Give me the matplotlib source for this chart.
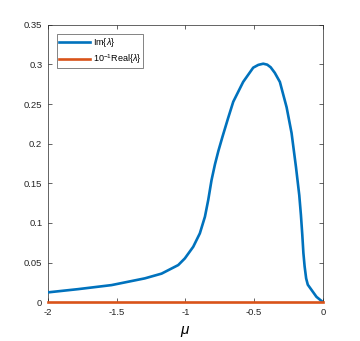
import matplotlib
matplotlib.use("Agg")
import matplotlib.pyplot as plt
import numpy as np

# valores
mu = [-2.0, -1.78, -1.537, -1.295, -1.173, -1.052, -1.004, -0.943, -0.895, -0.858,
      -0.834, -0.81, -0.785, -0.76, -0.73, -0.69, -0.652, -0.58, -0.507, -0.47,
      -0.434, -0.405, -0.38, -0.35, -0.313, -0.264, -0.228, -0.196, -0.172, -0.16,
      -0.15, -0.142, -0.133, -0.122, -0.11, -0.082, -0.047, 0.0]
im_lam = [0.0123, 0.0164, 0.0215, 0.030, 0.036, 0.0468, 0.0552, 0.0699, 0.0868, 0.1078,
          0.1289, 0.154, 0.174, 0.191, 0.209, 0.232, 0.253, 0.278, 0.296, 0.2995,
          0.301, 0.2998, 0.2965, 0.2895, 0.278, 0.246, 0.2135, 0.1706, 0.135, 0.11,
          0.085, 0.062, 0.045, 0.030, 0.022, 0.0152, 0.0067, 0.0]
real_lam = [0.0] * len(mu)

plt.rcParams['font.family'] = ['Liberation Sans', 'DejaVu Sans']
plt.rcParams['mathtext.fontset'] = 'custom'
plt.rcParams['mathtext.it'] = 'Liberation Sans:italic'
plt.rcParams['mathtext.rm'] = 'Liberation Sans'

fig = plt.figure(figsize=(3.6, 3.41), dpi=100)
ax = fig.add_axes([0.133, 0.114, 0.764, 0.813])

ax.plot(mu, im_lam, color='#0072BD', lw=1.9, label=r'Im{$\lambda$}', zorder=3)
ax.plot(mu, real_lam, color='#D95319', lw=1.9, label=r'10$^{-1}$Real{$\lambda$}',
        clip_on=False, zorder=4)

ax.set_xlim(-2, 0)
ax.set_ylim(0, 0.35)
ax.set_xticks([-2, -1.5, -1, -0.5, 0])
ax.set_xticklabels(['-2', '-1.5', '-1', '-0.5', '0'])
ax.set_yticks(np.arange(0, 0.351, 0.05))
ax.set_yticklabels(['0', '0.05', '0.1', '0.15', '0.2', '0.25', '0.3', '0.35'])
ax.tick_params(direction='in', top=True, right=True, labelsize=6.8, length=3,
               width=0.5, colors='#262626', pad=4)
for s in ax.spines.values():
    s.set_linewidth(0.5)
    s.set_color('#262626')
ax.set_xlabel(r'$\mu$', fontsize=11, labelpad=5)

leg = ax.legend(loc='upper left', bbox_to_anchor=(0.033, 0.9675), fontsize=6.5,
                frameon=True, fancybox=False, handlelength=3.4, borderpad=0.25,
                labelspacing=0.35, handletextpad=0.3, borderaxespad=0)
leg.get_frame().set_edgecolor('#262626')
leg.get_frame().set_linewidth(0.5)

fig.savefig('out.png', dpi=100)
